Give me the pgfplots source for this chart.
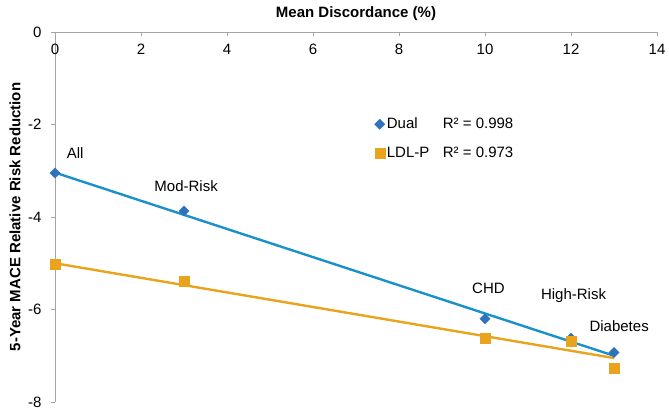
\documentclass[border=0pt]{standalone}
\usepackage{fontspec}
\setmainfont{Liberation Sans}
\usepackage{pgfplots}
\pgfplotsset{compat=1.18}
\usetikzlibrary{calc}
\definecolor{dualline}{RGB}{28,144,200}
\definecolor{dualmark}{RGB}{48,114,190}
\definecolor{ldl}{RGB}{233,163,28}
\definecolor{axgray}{RGB}{165,165,165}
\begin{document}
\begin{tikzpicture}
\begin{axis}[
  scale only axis, width=602pt, height=370pt,
  xmin=0, xmax=14, ymin=-8, ymax=0,
  axis x line*=top, axis y line*=left,
  axis line style={axgray, line width=0.8pt, -},
  xtick={0,2,4,6,8,10,12,14}, ytick={0,-2,-4,-6,-8},
  /pgf/number format/assume math mode=true,
  tick label style={font=\fontsize{15}{17}\selectfont, text=black},
  xticklabel style={anchor=north, yshift=-13pt},
  yticklabel style={xshift=-6pt},
  tick align=outside, major tick length=4pt,
  tick style={axgray, line width=0.8pt},
  x tick style={yshift=-4pt},
  xlabel={Mean Discordance (\%)},
  xlabel style={font=\fontsize{15}{17}\selectfont\bfseries, at={(axis description cs:0.5,1.051)}, anchor=center},
  ylabel={5-Year MACE Relative Risk Reduction},
  ylabel style={font=\fontsize{15}{17}\selectfont\bfseries, at={(axis description cs:-0.0515,0.5)}, anchor=south, rotate=0},
  legend style={draw=none, fill=none, at={(axis cs:7.36,-1.77)}, anchor=north west, row sep=13pt, font=\fontsize{15}{17}\selectfont},
  legend cell align=left,
  clip=false,
]
% trend lines
\addplot[dualline, line width=2.4pt, forget plot] coordinates {(0,-3.04) (13,-7.00)};
\addplot[ldl, line width=2.4pt, forget plot] coordinates {(0,-5.00) (13,-7.05)};
% data points
\addplot[only marks, mark=square*, mark size=3.6pt, color=dualmark, mark options={rotate=45, fill=dualmark, draw=dualmark}]
  coordinates {(0,-3.05) (3,-3.87) (10,-6.20) (12,-6.62) (13,-6.93)};
\addlegendentry{\makebox[56pt][l]{Dual}R² = 0.998}
\addplot[only marks, mark=square*, mark size=5pt, color=ldl, mark options={fill=ldl, draw=ldl}]
  coordinates {(0,-5.03) (3,-5.39) (10,-6.62) (12,-6.69) (13,-7.27)};
\addlegendentry{\makebox[56pt][l]{LDL-P}R² = 0.973}
% point labels
\node[font=\fontsize{15}{17}\selectfont] at (axis cs:0.47,-2.61) {All};
\node[font=\fontsize{15}{17}\selectfont] at (axis cs:3.05,-3.34) {Mod-Risk};
\node[font=\fontsize{15}{17}\selectfont] at (axis cs:10.08,-5.54) {CHD};
\node[font=\fontsize{15}{17}\selectfont] at (axis cs:12.06,-5.70) {High-Risk};
\node[font=\fontsize{15}{17}\selectfont] at (axis cs:13.12,-6.36) {Diabetes};
\end{axis}
\path ($(current axis.south west)+(-55pt,-13pt)$) rectangle ($(current axis.north east)+(12pt,32pt)$);
\end{tikzpicture}
\end{document}
